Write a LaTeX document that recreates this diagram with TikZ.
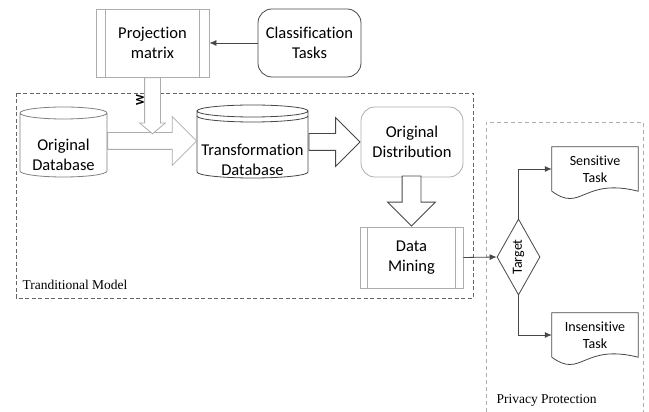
\documentclass[tikz,border=0pt]{standalone}
\usepackage{fontspec}
\setmainfont{Carlito}[Ligatures=NoCommon]
\newfontfamily\timesfont{Liberation Serif}
\usetikzlibrary{shapes.geometric,shapes.arrows,arrows.meta,calc,positioning}

\colorlet{lightline}{black!32}
\colorlet{midline}{black!50}
\colorlet{darkline}{black!72}

% keeps t and i apart
\newcommand{\nolig}{\kern0pt}

\tikzset{
  txt/.style={font=\fontsize{16.5}{20}\selectfont, align=center, inner sep=0pt},
  proc/.style={txt, draw=lightline, line width=0.8pt, rectangle},
  roundbox/.style={txt, draw=#1, line width=0.8pt, rounded corners=14pt},
  dbtext/.style={txt, minimum width=#1},
  doctext/.style={font=\fontsize{14}{17}\selectfont, align=center, inner sep=0pt,
    minimum width=86pt, minimum height=44pt},
  fatarrow/.style={single arrow, draw=#1, fill=white, line width=0.8pt, inner xsep=0pt,
    text height=0pt, text depth=0pt, single arrow tip angle=90},
  link/.style={draw=darkline, line width=0.8pt, -{Latex[length=7pt,width=6pt]}},
  groupbox/.style={draw=#1, line width=0.8pt, dash pattern=on 4pt off 2.5pt}
}

% process box with the two side bars
\newcommand{\sidebars}[2][9pt]{%
  \draw[lightline, line width=0.8pt] ([xshift=#1]#2.north west) -- ([xshift=#1]#2.south west)
    ([xshift=-#1]#2.north east) -- ([xshift=-#1]#2.south east);}

% cylinder round a text node: node, colour, top, bottom, half width
\newcommand{\database}[5]{%
  \draw[#2, line width=0.8pt] let \p1=(#1.center) in
    (\x1-#5pt,\y1+#3pt-6pt) -- (\x1-#5pt,\y1-#4pt+6pt)
    arc[start angle=180, end angle=360, x radius=#5, y radius=6]
    -- (\x1+#5pt,\y1+#3pt-6pt)
    (\x1,\y1+#3pt-6pt) ellipse[x radius=#5, y radius=6];}

% sheet with a wavy lower edge
\newcommand{\docshape}[1]{%
  \draw[darkline, line width=0.8pt] (#1.south west) -- (#1.north west) -- (#1.north east)
    -- (#1.south east) .. controls +(-56pt,14pt) and +(30pt,-22pt) .. (#1.south west);}

\begin{document}
\begin{tikzpicture}[x=1pt, y=1pt]
        \useasboundingbox (0,0) rectangle (649,412);

        \draw[groupbox=black!60] (16,319) rectangle (473,114);
        \draw[groupbox=lightline, dash pattern=on 4pt off 3pt, line width=0.6pt]
          (486,0) -- (486,290) -- (643,290) -- (643,0);
        \node[anchor=west, font=\timesfont\fontsize{13.5}{16}\selectfont] (tmlbl) at (19,127) {Tranditional Model};
        \node[anchor=west, font=\timesfont\fontsize{13.5}{16}\selectfont] (pplbl) at (493,12) {Privacy Protection};

        \node[proc, minimum width=113pt, minimum height=68pt] (pm) at (152.5,369) {Project\nolig ion\\matrix};
        \sidebars[10pt]{pm}
        \node[roundbox=darkline, minimum width=103pt, minimum height=68pt] (ct) at (309.5,369) {Classificat\nolig ion\\Tasks};
        \draw[link] (ct.west) -- (pm.east);

        \node[dbtext=87pt] (odb) at (63.5,257) {Original\\Database};
        \database{odb}{midline}{48}{22}{43.5}
        \node[dbtext=111pt] (tdb) at (252.5,252) {Transformat\nolig ion\\Database};
        \database{tdb}{darkline}{55}{18}{55.5}
        \draw[darkline, line width=0.8pt] let \p1=(tdb.center) in
          (\x1-55.5pt,\y1+44pt) arc[start angle=180, end angle=360, x radius=55.5, y radius=6];

        \node[roundbox=lightline, minimum width=102pt, minimum height=70pt] (od) at (412,270) {Original\\Distribut\nolig ion};
        \node[proc, minimum width=103pt, minimum height=61pt] (dm) at (411.5,154.5) {Data\\Mining};
        \sidebars[8pt]{dm}

        \node[fatarrow=lightline, inner ysep=8pt, single arrow head extend=16pt,
          minimum height=89pt, anchor=tail] (arr1) at ([yshift=14pt]odb.east) {};
        \node[fatarrow=lightline, inner ysep=7.5pt, single arrow head extend=5pt,
          single arrow tip angle=100, minimum height=56pt, rotate=-90, anchor=tail] (warr) at (pm.south) {};
        \node[rotate=90, inner sep=0pt, font=\fontsize{12}{12}\bfseries\selectfont] (wlbl) at (140,312) {W};
        \node[fatarrow=darkline, inner ysep=8pt, single arrow head extend=16pt,
          minimum height=51pt, anchor=tip] (arr2) at (od.west) {};
        \node[fatarrow=darkline, inner ysep=9pt, single arrow head extend=14.5pt,
          minimum height=50pt, rotate=-90, anchor=tip] (arr3) at (dm.north) {};

        \node[diamond, draw=darkline, line width=0.8pt, aspect=0.7, inner sep=0pt,
          minimum width=43pt, minimum height=76pt, font=\fontsize{14}{17}\selectfont] (tg) at (518.5,155) {\rotatebox{90}{Target}};
        \draw[link] (dm.east) -- (tg.west);

        \node[doctext] (st) at (595,243) {Sensit\nolig ive\\Task};
        \docshape{st}
        \node[doctext] (it) at (595,77) {Insensit\nolig ive\\Task};
        \docshape{it}
        \draw[link] (tg.north) |- (st.west);
        \draw[link] (tg.south) |- (it.west);
      \end{tikzpicture}
\end{document}
